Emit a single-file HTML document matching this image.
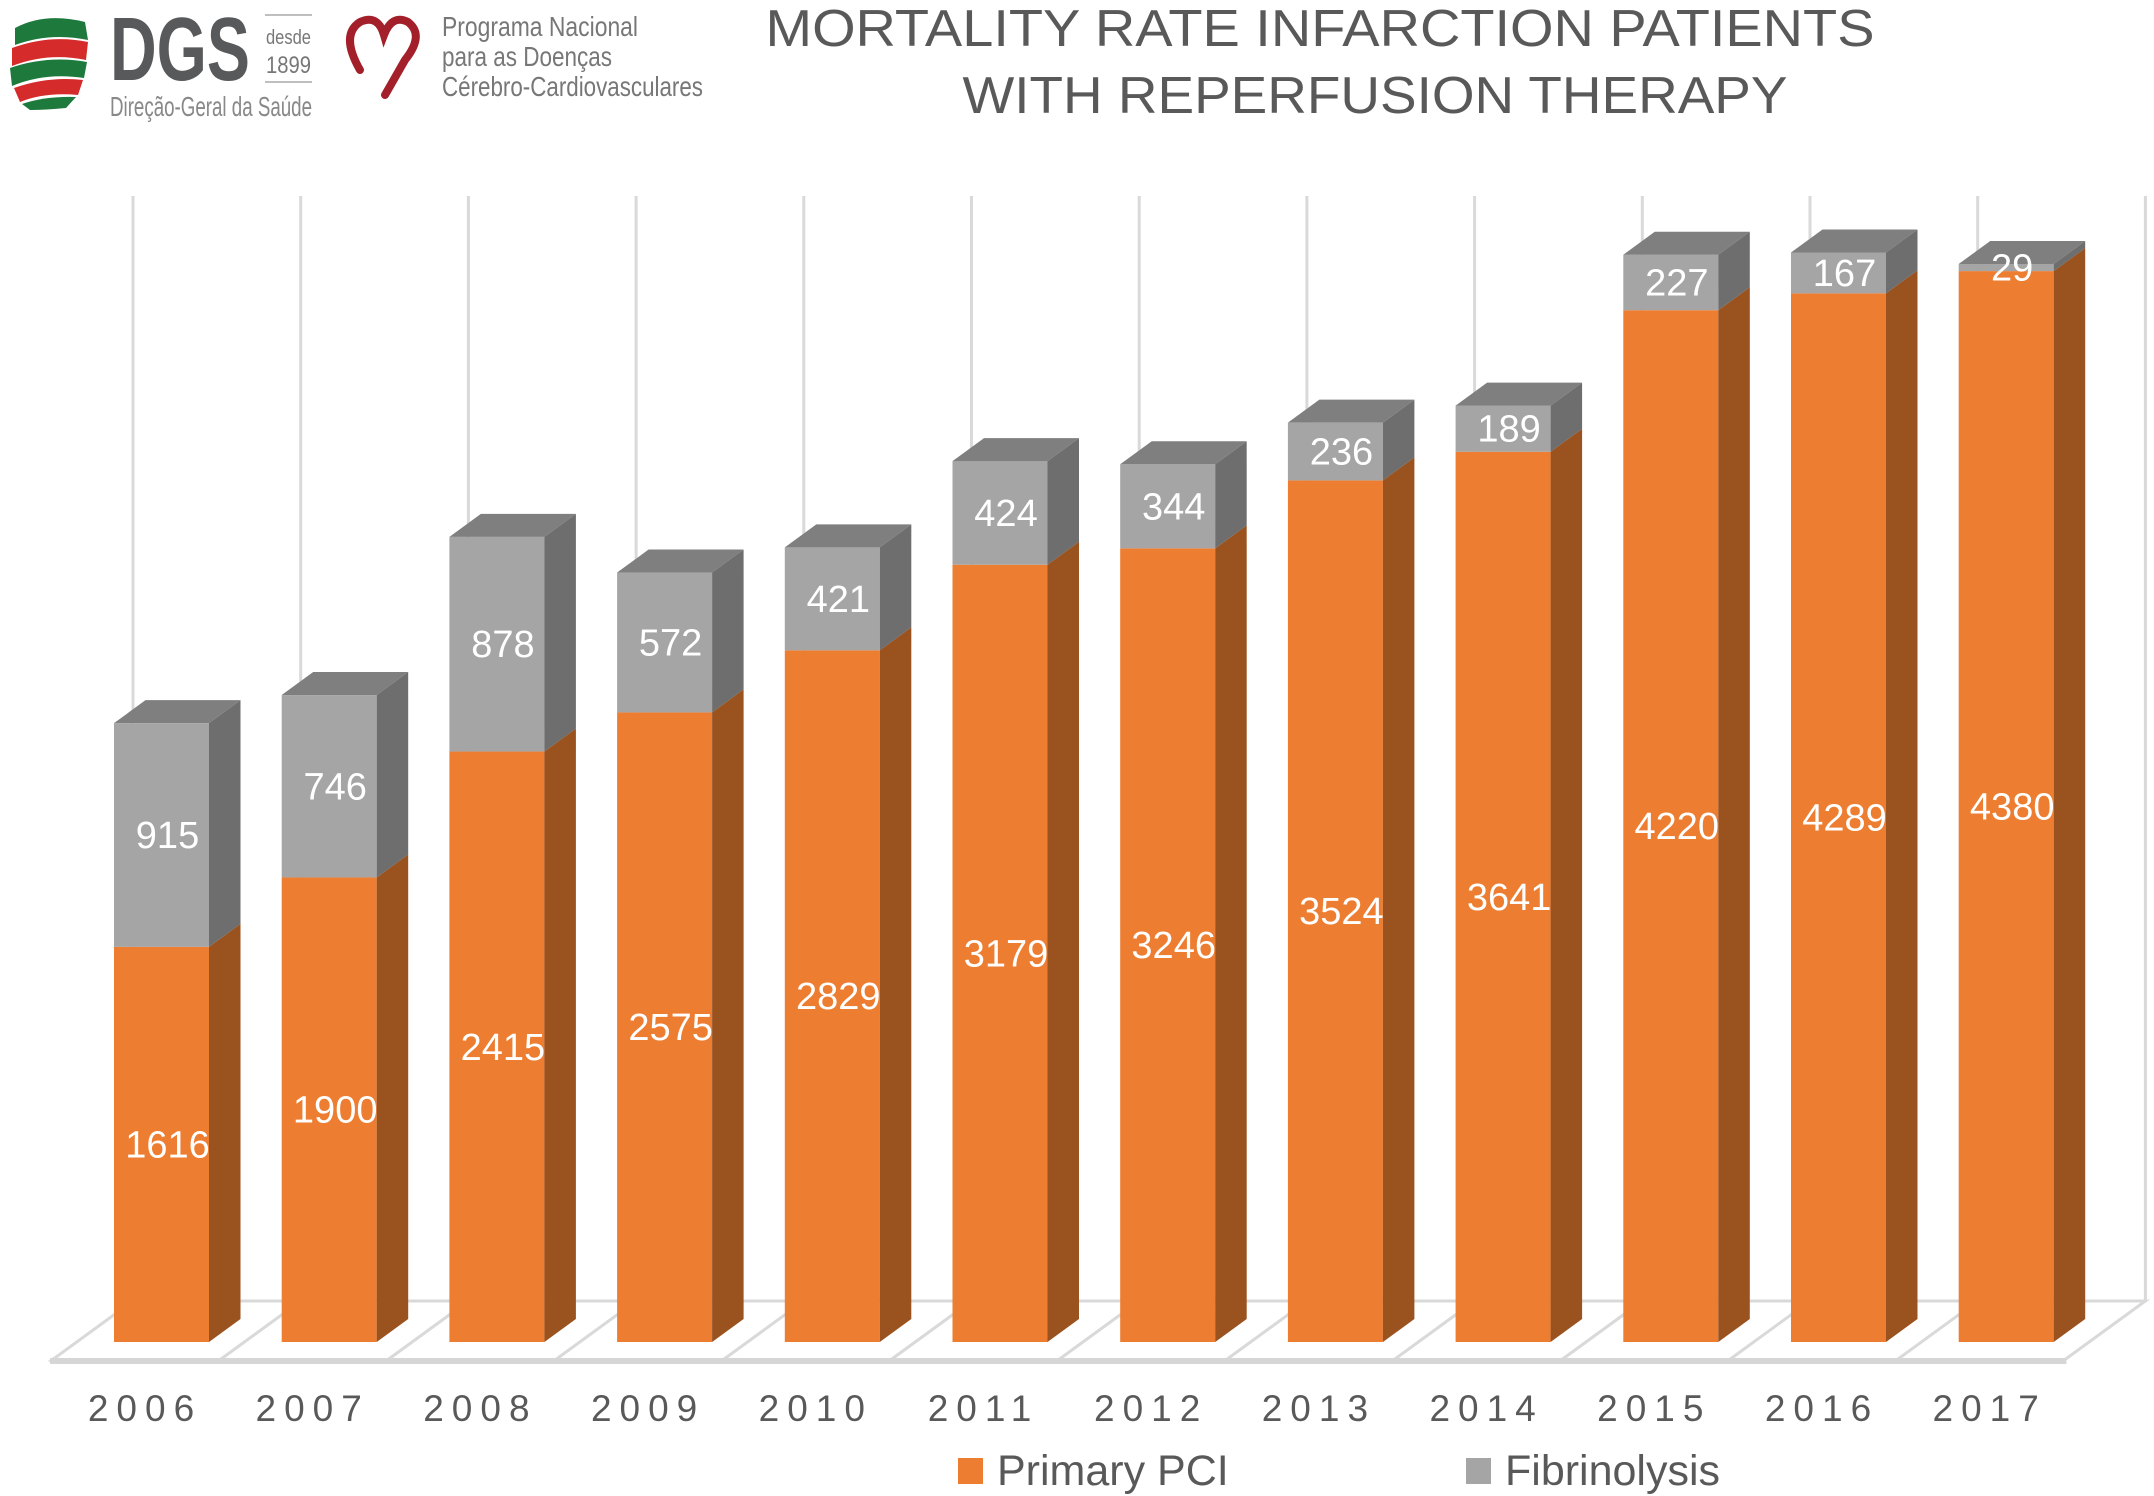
<!DOCTYPE html>
<html><head><meta charset="utf-8">
<style>
html,body{margin:0;padding:0;background:#fff;}
svg{display:block;font-family:"Liberation Sans",sans-serif;}
</style></head>
<body>
<svg id="chart" width="2154" height="1496" viewBox="0 0 2154 1496" xmlns="http://www.w3.org/2000/svg">
  <g>
    <path d="M15 28 Q45 12 85 22 L88 40 Q50 32 15 45 Z" fill="#1e7a3c"/>
    <path d="M12 48 Q50 34 88 42 L86 60 Q48 52 12 66 Z" fill="#d62b2b"/>
    <path d="M10 68 Q48 55 87 62 L84 78 Q45 72 12 86 Z" fill="#1e7a3c"/>
    <path d="M14 88 Q48 76 83 80 L78 95 Q45 92 20 102 Z" fill="#d62b2b"/>
    <path d="M22 104 Q45 96 76 97 L66 108 Q45 110 30 110 Z" fill="#1e7a3c"/>
    <text x="110" y="80" font-size="90" font-weight="bold" fill="#58595b" textLength="140" lengthAdjust="spacingAndGlyphs">DGS</text>
    <line x1="265" y1="15" x2="312" y2="15" stroke="#aaa" stroke-width="1.5"/>
    <line x1="265" y1="82" x2="312" y2="82" stroke="#aaa" stroke-width="1.5"/>
    <text x="266" y="44" font-size="20" fill="#777" textLength="45" lengthAdjust="spacingAndGlyphs">desde</text>
    <text x="266" y="73" font-size="24" fill="#777" textLength="45" lengthAdjust="spacingAndGlyphs">1899</text>
    <text x="110" y="116" font-size="28" fill="#888" textLength="202" lengthAdjust="spacingAndGlyphs">Direção-Geral da Saúde</text>
  </g>
  <g>
    <path d="M360 70 Q340 35 360 22 Q378 14 384 35 Q392 14 408 22 Q425 35 405 60 L385 95" fill="none" stroke="#a3202a" stroke-width="8" stroke-linecap="round"/>
    <text x="442" y="36" font-size="28" fill="#777" textLength="196" lengthAdjust="spacingAndGlyphs">Programa Nacional</text>
    <text x="442" y="66" font-size="28" fill="#777" textLength="170" lengthAdjust="spacingAndGlyphs">para as Doenças</text>
    <text x="442" y="96" font-size="28" fill="#777" textLength="261" lengthAdjust="spacingAndGlyphs">Cérebro-Cardiovasculares</text>
  </g>
  <g fill="#595959" font-size="52">
    <text x="1320" y="46" text-anchor="middle" textLength="1109" lengthAdjust="spacingAndGlyphs">MORTALITY RATE INFARCTION PATIENTS</text>
    <text x="1375" y="113" text-anchor="middle" textLength="825" lengthAdjust="spacingAndGlyphs">WITH REPERFUSION THERAPY</text>
  </g>
  <g id="grid"></g>
  <g id="floor"></g>
  <g id="bars"></g>
  <g id="xaxis"></g>
  <g>
    <g>
      <rect x="958" y="1458" width="25" height="26" fill="#ED7D31"/>
      <text x="997" y="1485" font-size="43" fill="#595959">Primary PCI</text>
    </g>
    <g>
      <rect x="1466" y="1458" width="25" height="26" fill="#A5A5A5"/>
      <text x="1505" y="1485" font-size="43" fill="#595959">Fibrinolysis</text>
    </g>
  </g>
</svg>
<script>
const years = ["2006","2007","2008","2009","2010","2011","2012","2013","2014","2015","2016","2017"];
const primaryPCI = [1616,1900,2415,2575,2829,3179,3246,3524,3641,4220,4289,4380];
const fibrinolysis = [915,746,878,572,421,424,344,236,189,227,167,29];

const NS="http://www.w3.org/2000/svg";
const baseY=1342, pxPerUnit=0.2445, x0=114, pitch=167.7, bw=95, dx=31.5, dy=23;
const yScale=v=>baseY - v*pxPerUnit;
const xBand=i=>x0+i*pitch;
function mk(tag,attrs,parent){const e=document.createElementNS(NS,tag);for(const k in attrs)e.setAttribute(k,attrs[k]);parent.appendChild(e);return e;}

const grid=document.getElementById('grid');
for(let i=0;i<=years.length;i++){
  const gx=133+i*pitch;
  const l=mk('line',{x1:gx,y1:196,x2:gx,y2:1301,stroke:'#d9d9d9','stroke-width':3},grid);
  
  
}
const floor=document.getElementById('floor');
const fp=mk('polygon',{points:`52,1360 ${52+12*pitch},1360 ${133+12*pitch},1301 133,1301`,fill:'#fff',stroke:'#d9d9d9','stroke-width':3},floor);


for(let i=1;i<years.length;i++){
  const fl=mk('line',{x1:52+i*pitch,y1:1360,x2:133+i*pitch,y2:1301,stroke:'#d9d9d9','stroke-width':3},floor);
  
  
}
const fe=mk('rect',{x:50,y:1358,width:12*pitch+4,height:6,fill:'#d6d6d6'},floor);



const bars=document.getElementById('bars');
function seg(g,x,yTop,yBot,front,side,name){
  const f=mk('rect',{x:x,y:yTop,width:bw,height:yBot-yTop,fill:front},g);
  
  
  const s=mk('polygon',{points:`${x+bw},${yTop} ${x+bw+dx},${yTop-dy} ${x+bw+dx},${yBot-dy} ${x+bw},${yBot}`,fill:side},g);
  
  
}
years.forEach((yr,i)=>{
  const g=mk('g',{},bars);
  
  
  const x=xBand(i);
  const yP=yScale(primaryPCI[i]);
  const yT=yScale(primaryPCI[i]+fibrinolysis[i]);
  seg(g,x,yP,baseY,'#ED7D31','#9A521F','primary-pci-'+yr);
  seg(g,x,yT,yP,'#A5A5A5','#6E6E6E','fibrinolysis-'+yr);
  const top=mk('polygon',{points:`${x},${yT} ${x+dx},${yT-dy} ${x+bw+dx},${yT-dy} ${x+bw},${yT}`,fill:'#7F7F7F'},g);
  
  
  const cx=x+bw/2+6;
  const t1=mk('text',{x:cx,y:(yP+baseY)/2+13,'text-anchor':'middle','font-size':38,fill:'#fff'},g);
  t1.textContent=primaryPCI[i];
  
  
  const t2=mk('text',{x:cx,y:Math.max((yT+yP)/2+13,yT+6),'text-anchor':'middle','font-size':38,fill:'#fff'},g);
  t2.textContent=fibrinolysis[i];
  
  
});

const xaxis=document.getElementById('xaxis');
years.forEach((yr,i)=>{
  const t=mk('text',{x:145+i*pitch,y:1421,'text-anchor':'middle','font-size':37,fill:'#595959','letter-spacing':8},xaxis);
  t.textContent=yr;
  
  
});
</script>
</body></html>
